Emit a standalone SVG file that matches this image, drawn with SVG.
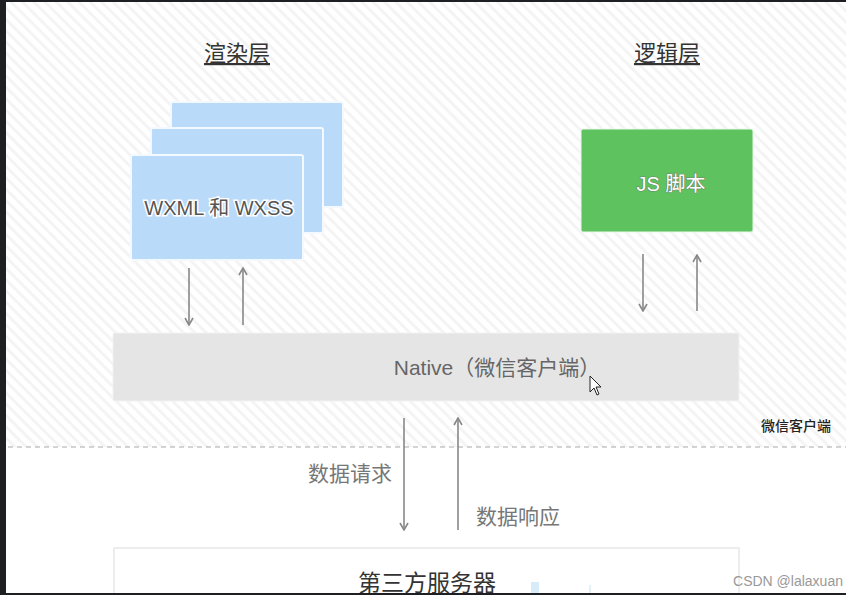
<svg xmlns="http://www.w3.org/2000/svg" width="846" height="595" viewBox="0 0 846 595">
<defs>
<pattern id="hatch" width="8" height="8" patternUnits="userSpaceOnUse" patternTransform="rotate(45)">
<rect width="8" height="8" fill="#ffffff"/>
<rect width="8" height="3" fill="#f4f4f4"/>
</pattern>
<marker id="ah" markerWidth="10" markerHeight="10" refX="9" refY="5" orient="auto" markerUnits="userSpaceOnUse" viewBox="0 0 10 10">
<path d="M2,1 L9,5 L2,9" fill="none" stroke="#888" stroke-width="1.6"/>
</marker>
</defs>
<style>
.t{font-family:"Liberation Sans","Noto Sans CJK SC",sans-serif;}
.title{font-size:22px;fill:#333;text-anchor:middle;text-decoration:underline;}
.card{fill:#b9daf9;stroke:#f4f9ff;stroke-width:2;}
.lab{font-size:20px;text-anchor:middle;}
.arr{stroke:#888;stroke-width:1.6;fill:none;}
.grey{fill:#777;font-size:21px;}
</style>
<rect width="846" height="595" fill="#ffffff"/>
<rect x="0" y="0" width="846" height="447" fill="url(#hatch)"/>
<rect x="0" y="0" width="846" height="2" fill="#1e1f22"/>
<rect x="0" y="0" width="6" height="595" fill="#1e1f22"/>
<line x1="8" y1="447" x2="846" y2="447" stroke="#aaa" stroke-width="1.2" stroke-dasharray="5 4"/>

<g id="title-render"><text class="t title" x="237" y="61">渲染层</text></g>
<g id="title-logic"><text class="t title" x="667" y="61">逻辑层</text></g>

<g id="wxml">
<rect class="card" x="171" y="102" width="172" height="105" rx="2"/>
<rect class="card" x="151" y="128" width="172" height="105" rx="2"/>
<rect class="card" x="131" y="155" width="172" height="105" rx="2"/>
<text class="t lab" x="219" y="215" fill="#555" stroke="#fff" stroke-width="3" paint-order="stroke">WXML 和 WXSS</text>
</g>

<g id="js">
<rect x="581" y="129" width="172" height="103" rx="2" fill="#5ec35e" stroke="#eaf6ea" stroke-width="1"/>
<text class="t lab" x="671" y="191" fill="#fff" stroke="#6a8a6a" stroke-width="1.2" paint-order="stroke">JS 脚本</text>
</g>

<g id="native">
<rect x="113" y="333" width="626" height="68" rx="2" fill="#e5e5e5" stroke="#f2f2f2" stroke-width="1"/>
<text class="t" x="497" y="375" font-size="21" fill="#666" text-anchor="middle">Native（微信客户端）</text>
<path d="M590,376 L590,392 L594,388 L597,395 L599,394 L596,387 L601,387 Z" fill="#fff" stroke="#222" stroke-width="1"/>
</g>

<g id="client-label"><text class="t" x="796" y="431" font-size="14" fill="#222" text-anchor="middle" font-weight="500">微信客户端</text></g>

<g id="server">
<rect x="114" y="548" width="625" height="60" fill="#fff" stroke="#e8e8e8" stroke-width="1.5"/>
<text class="t" x="427" y="591" font-size="23" fill="#333" text-anchor="middle">第三方服务器</text>
<rect x="531" y="582" width="8" height="13" fill="#d7ebf8"/>
<rect x="589" y="585" width="2" height="10" fill="#e3f0f8"/>
</g>

<g id="connectors">
<line class="arr" x1="189" y1="268" x2="189" y2="325" marker-end="url(#ah)"/>
<line class="arr" x1="243" y1="325" x2="243" y2="268" marker-end="url(#ah)"/>
<line class="arr" x1="643" y1="254" x2="643" y2="311" marker-end="url(#ah)"/>
<line class="arr" x1="697" y1="311" x2="697" y2="255" marker-end="url(#ah)"/>
<line class="arr" x1="404" y1="418" x2="404" y2="530" marker-end="url(#ah)"/>
<line class="arr" x1="458" y1="530" x2="458" y2="418" marker-end="url(#ah)"/>
</g>

<g id="edge-labels">
<text class="t grey" x="350" y="481" text-anchor="middle">数据请求</text>
<text class="t grey" x="518" y="524" text-anchor="middle">数据响应</text>
</g>

<g id="watermark"><text x="788" y="586" font-family="Liberation Sans, sans-serif" font-size="14" fill="#999" text-anchor="middle">CSDN @lalaxuan</text></g>
<rect x="0" y="593" width="846" height="2" fill="#1e1f22"/>
</svg>
